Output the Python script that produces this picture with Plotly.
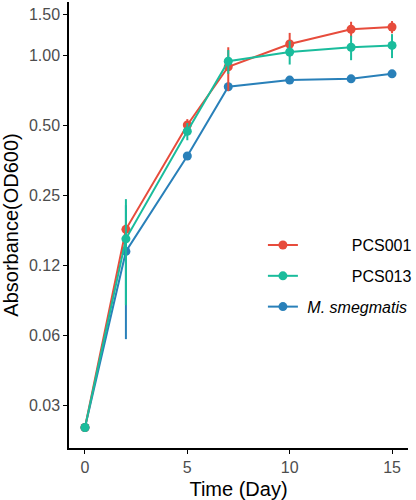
import plotly.graph_objects as go

days = [0, 2, 5, 7, 10, 13, 15]
series_names = ["PCS001", "PCS013", "M. smegmatis"]
pcs001_mean = [0.025, 0.178, 0.50, 0.89, 1.115, 1.29, 1.32]
pcs001_sd = [0.001, 0.01, 0.03, 0.19, 0.13, 0.10, 0.08]
pcs013_mean = [0.025, 0.162, 0.47, 0.94, 1.03, 1.08, 1.10]
pcs013_sd = [0.001, 0.078, 0.04, 0.11, 0.12, 0.13, 0.13]
msmeg_mean = [0.025, 0.143, 0.368, 0.73, 0.78, 0.79, 0.83]
msmeg_sd = [0.001, 0.083, 0.01, 0.03, 0.01, 0.01, 0.01]

y_tickvals = [1/32, 1/16, 1/8, 0.25, 0.5, 1.0, 1.5]
y_ticktext = ["0.03", "0.06", "0.12", "0.25", "0.50", "1.00", "1.50"]
x_tickvals = [0, 5, 10, 15]

colors = {"PCS001": "#E74C3C", "PCS013": "#1ABC9C", "M. smegmatis": "#2980B9"}
data = {
    "PCS001": (pcs001_mean, pcs001_sd),
    "PCS013": (pcs013_mean, pcs013_sd),
    "M. smegmatis": (msmeg_mean, msmeg_sd),
}
labels = {
    "PCS001": "\u00a0" * 11 + "PCS001",
    "PCS013": "\u00a0" * 11 + "PCS013",
    "M. smegmatis": "\u00a0<i>M. smegmatis</i>",
}
rank = {"PCS001": 1, "PCS013": 2, "M. smegmatis": 3}

fig = go.Figure()
for name in ["M. smegmatis", "PCS001", "PCS013"]:
    m, s = data[name]
    fig.add_trace(go.Scatter(
        x=days, y=m, mode="lines+markers", name=labels[name],
        legendgroup=name, legendrank=rank[name],
        line=dict(color=colors[name], width=2),
        marker=dict(color=colors[name], size=9),
        error_y=dict(type="data", array=s, color=colors[name], thickness=2, width=0),
    ))

fig.update_layout(
    width=416, height=500,
    margin=dict(l=69, r=8, t=2, b=52, autoexpand=False),
    paper_bgcolor="white", plot_bgcolor="white",
    font=dict(family="Liberation Sans, Arial", size=16, color="#4D4D4D"),
    showlegend=True,
    legend=dict(x=0.572, y=0.493, xanchor="left", yanchor="top",
                traceorder="grouped", tracegroupgap=7,
                font=dict(size=16, color="black"), bgcolor="rgba(0,0,0,0)"),
    xaxis=dict(range=[-0.78, 15.78], tickvals=x_tickvals, showgrid=False, zeroline=False,
               automargin=False,
               showline=True, linecolor="black", linewidth=1.5,
               ticks="outside", ticklen=4, tickcolor="black", tickwidth=1.2,
               title=dict(text="Time (Day)", font=dict(size=20, color="black"))),
    yaxis=dict(type="log", range=[-1.690, 0.228], tickvals=y_tickvals, ticktext=y_ticktext,
               showgrid=False, zeroline=False, automargin=False,
               showline=True, linecolor="black", linewidth=1.5,
               ticks="outside", ticklen=4, tickcolor="black", tickwidth=1.2,
               title=dict(text="Absorbance(OD600)", font=dict(size=20, color="black"))),
)

fig.write_html("out.html", config={"displayModeBar": False},
               post_script="document.body.style.margin='0';")
